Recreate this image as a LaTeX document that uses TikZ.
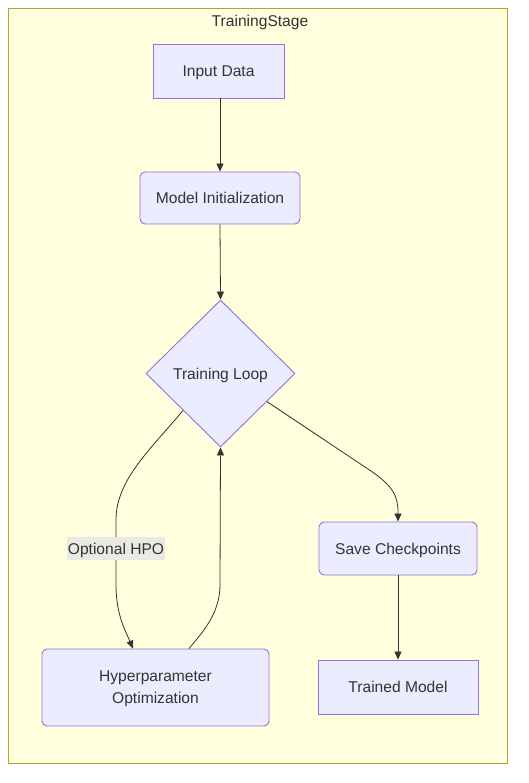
\documentclass[tikz,border=0pt]{standalone}
\usepackage{fontspec}
\setmainfont{Liberation Sans}
\usetikzlibrary{shapes.geometric,arrows.meta,calc}
\definecolor{clusterfill}{HTML}{FFFFDE}
\definecolor{clusterdraw}{HTML}{AAAA33}
\definecolor{nodefill}{HTML}{ECECFF}
\definecolor{nodedraw}{HTML}{9370DB}
\definecolor{ink}{HTML}{333333}
\definecolor{lblfill}{RGB}{234,234,228}
\tikzset{
  txt/.style={font=\fontsize{15.6}{19}\selectfont, text=ink, text depth=0pt},
  box/.style={txt, draw=nodedraw, fill=nodefill, line width=0.9pt, inner sep=0pt, align=center},
  rbox/.style={box, rounded corners=5pt},
  dia/.style={box, diamond, aspect=1},
  conn/.style={draw=ink, line width=0.8pt, -{Triangle[length=8pt,width=7pt]}},
  lbl/.style={txt, fill=lblfill, inner sep=0pt, minimum width=98pt, minimum height=23pt},
}
\begin{document}
\begin{tikzpicture}[x=1pt,y=-1pt]
\useasboundingbox (0,0) rectangle (528,783);
\draw[fill=clusterfill, draw=clusterdraw, line width=0.9pt] (8,8) rectangle (507,763);
\node[txt] (title) at (260,20.5) {TrainingStage};

\node[box, minimum width=131pt, minimum height=54pt] (inp) at (218.5,71) {Input Data};
\node[rbox, minimum width=160pt, minimum height=52pt] (init) at (220,198) {Model Initialization};
\node[dia, minimum width=149pt, minimum height=147pt] (tl) at (220.5,373.5) {Training Loop};
\node[rbox, minimum width=227pt, minimum height=77pt] (hpo) at (155.5,687.5) {Hyperparameter\\[3pt]Optimization};
\node[rbox, minimum width=158pt, minimum height=53pt] (save) at (398,548.5) {Save Checkpoints};
\node[box, minimum width=160pt, minimum height=54pt] (trained) at (398,687) {Trained Model};

\draw[conn] (inp.south -| init.north) -- (init.north);
\draw[conn] (init.south) -- (tl.north);

\coordinate (hpoin) at ([xshift=-22.5pt]hpo.north);
\coordinate (hpoout) at ([xshift=33.5pt]hpo.north);
\coordinate (tlse) at ($(tl.east)!0.38!(tl.south)$);

\draw[conn] (tl.south west) .. controls (150,450) and (116,480) .. (116,520) -- (116,585) .. controls (116,615) and (126,632) .. (hpoin);
\node[lbl] (optlbl) at (116,548.5) {Optional HPO};

\draw[conn] (hpoout) .. controls (200,635) and (220,615) .. (220,585) -- (tl.south);

\draw[conn] (tlse) -- (368,469) .. controls (392,485) and (398,495) .. (398,512) -- (save.north);
\draw[conn] (save.south) -- (trained.north);
\end{tikzpicture}
\end{document}
